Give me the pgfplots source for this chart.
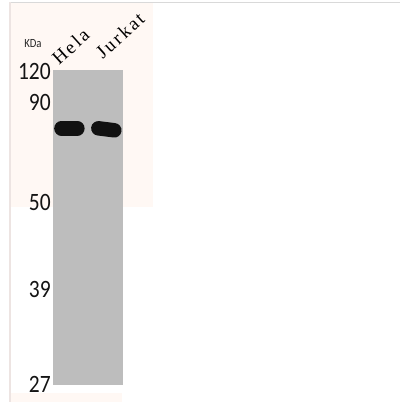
\documentclass[border=0pt]{standalone}
\usepackage{fontspec}
\usepackage{pgfplots}
\pgfplotsset{compat=1.18}
\setmainfont{Liberation Serif}
\newfontfamily\tickfont[FakeStretch=0.86]{Carlito}
\newfontfamily\lanefont[LetterSpace=12]{Liberation Serif}
\definecolor{blot}{HTML}{BDBDBD}
\definecolor{band}{HTML}{111111}
\definecolor{tint}{HTML}{FFF8F4}
\definecolor{frameline}{HTML}{D9D9D9}
\definecolor{sideline}{HTML}{EDE4E2}
\begin{document}
\begin{tikzpicture}
\begin{axis}[
  scale only axis,
  width=70pt, height=316pt,
  xmin=53, xmax=123,
  ymin=70, ymax=386,
  y dir=reverse,
  clip=false,
  axis on top,
  axis line style={draw=none},
  xtick=\empty,
  ytick={72,103,203,290,385},
  yticklabels={120,90,50,39,27},
  major tick length=0pt,
  yticklabel style={font=\fontsize{25}{25}\tickfont, text=black!92, inner sep=0pt, xshift=-2pt},
  /pgf/number format/assume math mode=true,
]
% picture frame
\path (axis cs:0,0) rectangle (axis cs:401,403);
% faint tinted panel behind the blot
\addplot[fill=tint, draw=none] coordinates {(10,3) (153,3) (153,207) (10,207)} -- cycle;
\addplot[fill=tint, draw=none] coordinates {(10,394) (122,394) (122,403) (10,403)} -- cycle;
\addplot[frameline, line width=1.2pt] coordinates {(10,2.5) (401,2.5)};
\addplot[sideline, line width=1.2pt] coordinates {(10,2.5) (10,403)};
% membrane
\addplot[fill=blot, draw=none] coordinates {(53,70) (123,70) (123,386) (53,386)} -- cycle;
% bands
\addplot[band, line width=14.5pt, line cap=round] coordinates {(61.5,128.5) (77.5,128.5)};
\addplot[band, line width=14.5pt, line cap=round] coordinates {(98.5,128.5) (114.5,130.5)};
% labels
\node[anchor=base west, rotate=42, inner sep=0pt, font=\fontsize{19}{19}\lanefont]
  at (axis cs:59,66) {Hela};
\node[anchor=base west, rotate=42, inner sep=0pt, font=\fontsize{19}{19}\lanefont]
  at (axis cs:103,60) {Jurkat};
\node[font=\fontsize{12.5}{12.5}\tickfont, text=black!85] at (axis cs:33,44) {KDa};
\end{axis}
\end{tikzpicture}
\end{document}
